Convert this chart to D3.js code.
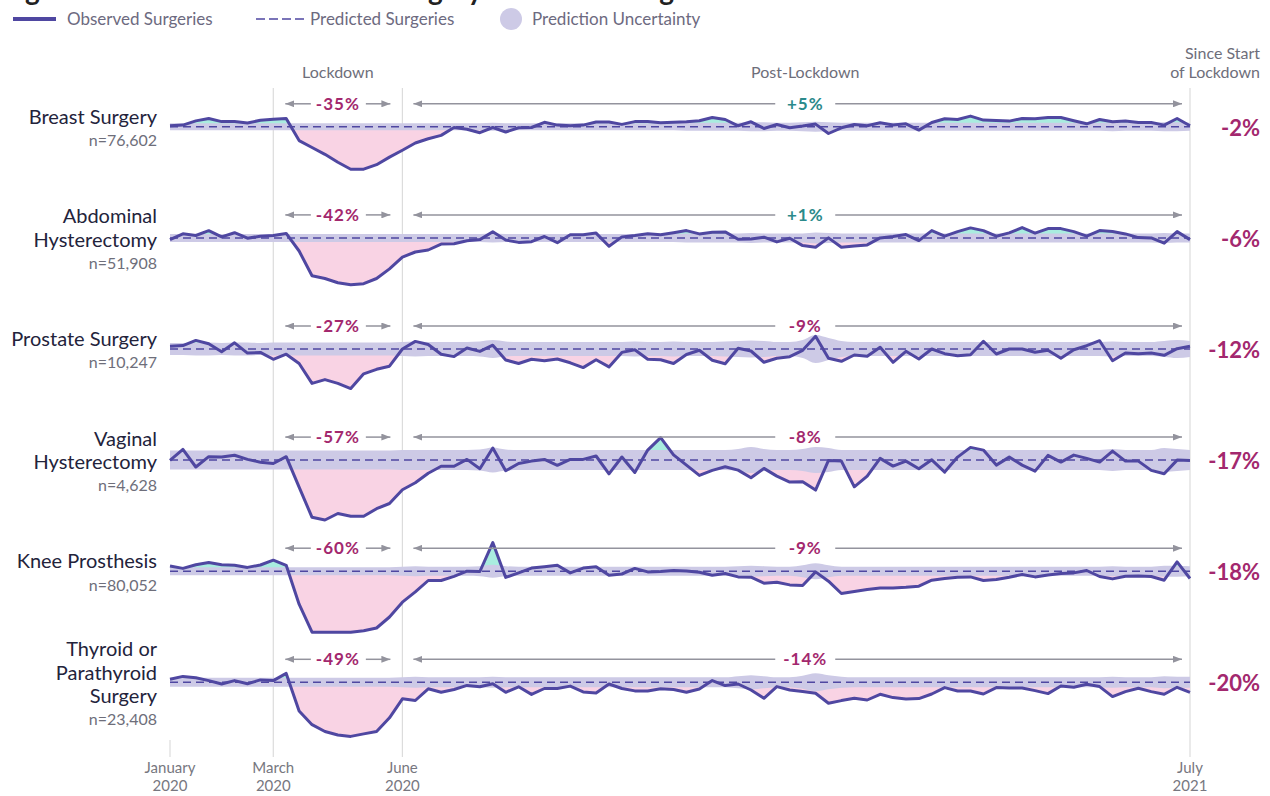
<!DOCTYPE html>
<html><head><meta charset="utf-8">
<script src="https://cdn.jsdelivr.net/npm/d3@7"></script>
<style>
body{margin:0;background:#fff;}
svg{display:block;font-family:Lato,'Noto Sans',sans-serif;}
</style></head><body>
<svg id="chart" width="1270" height="796"></svg>
<script>
// ---------- DATA ----------
const chartTitle = "Figure 1: Reduction in Elective Surgery Volume During and After Lockdown";
const legendLabels = ["Observed Surgeries", "Predicted Surgeries", "Prediction Uncertainty"];
const weekIndex = d3.range(80);
const tickWeeks = [0, 8, 18, 79];
const tickMonths = ["January", "March", "June", "July"];
const tickYears = ["2020", "2020", "2020", "2021"];
const lockdownStartWeek = 8, lockdownEndWeek = 18, lastWeek = 79;
const lockdownLabelWeek = 13, postLabelWeek = 49.2;
const phaseLabels = ["Lockdown", "Post-Lockdown"];
const sinceStartLabel = ["Since Start", "of Lockdown"];

const surgeryNames = [["Breast Surgery"], ["Abdominal", "Hysterectomy"], ["Prostate Surgery"],
  ["Vaginal", "Hysterectomy"], ["Knee Prosthesis"], ["Thyroid or", "Parathyroid", "Surgery"]];
const sampleSizes = ["n=76,602", "n=51,908", "n=10,247", "n=4,628", "n=80,052", "n=23,408"];
const lockdownChange = ["-35%", "-42%", "-27%", "-57%", "-60%", "-49%"];
const postChange = ["+5%", "+1%", "-9%", "-8%", "-9%", "-14%"];
const totalChange = ["-2%", "-6%", "-12%", "-17%", "-18%", "-20%"];

// observed deviation from predicted (%), weekly
const breastObserved = [1,1.7,5.9,8.3,5.2,5.2,3.8,6.5,7.6,8.3,
 -13.8,-20.7,-27.5,-35.5,-42.4,-42.4,-37.9,-30.3,-23.4,-16.2,
 -12,-8.6,-0.7,-2.4,-5.9,-0.7,-5.2,-1,-0.7,4.5,
 1.7,1,1.7,4.8,4.8,2.4,5.2,5.2,4.1,4.5,
 5,6,9.3,7.3,1,5,-1.7,2.3,-1,0.7,
 2.7,-6.7,-1,2.3,1,4,1.7,3,-3.3,4.3,
 8,7.3,10.7,6.7,6.3,5.7,8.3,8,9.3,9.3,
 6,3,7.3,5,5.7,4.3,4.3,1.7,8.3,1];
const abdominalObserved = [-1.7,4.1,2.4,7.2,1,5.2,-0.3,1.7,2.4,4.5,
 -13.1,-37.9,-40.6,-44.8,-46.8,-45.8,-40.6,-31,-19.3,-14.1,
 -12.1,-6.2,-5.9,-2.8,-1.7,6.2,-2.1,-4.5,-3.8,1.4,
 -4.8,3.1,3.1,4.8,-8.3,1,2.4,4.1,3.1,5.2,
 7.3,4,5.7,6,-1.3,-1,0.7,-4,-0.3,-7.7,
 -9.3,0,-9.3,-8,-7,0,1.3,3.3,-2.7,7.3,
 1.7,6.3,10,7.3,1.7,5,10.3,4.7,9.3,9.3,
 6.3,1.7,7.3,6.3,4,0.3,0,-5.3,6.3,-1.7];
const prostateObserved = [2.8,3.4,8.6,5.2,-2.8,6.2,-4.1,-3.4,-10.3,-5.2,
 -14.5,-34.4,-30.6,-34.4,-39.6,-24.8,-20.3,-17.2,0,7.6,
 4.5,-5.2,-7.6,1,-2.4,3.8,-11,-14.5,-10.3,-11.7,
 -10,-13.8,-18.6,-10.7,-17.9,-3.4,-0.7,-10.3,-10.7,-14.5,
 -5.5,-1.3,-11.3,-14.7,0.7,-2,-13.3,-9.3,-7.7,-1.3,
 12.7,-9.3,-12.3,-6,-7.3,1.7,-13.3,-2.3,-10,0,
 -4.7,-6.7,-5.7,7.7,-5,0,0,-3.3,-1.3,-9.3,
 -0.7,3.3,8.3,-11.7,-4,-4.7,-4,-6.3,0.3,2.7];
const vaginalObserved = [-0.3,10.7,-6.9,3.4,3.1,4.8,0.7,-2.1,-3.4,3.4,
 -27,-57.2,-59.9,-53.4,-56.1,-56.1,-48.6,-43.4,-29.6,-22.7,
 -13.1,-6.2,-6.2,0.7,-8.6,12.1,-10.7,-3.4,-1,0.7,
 -5.2,0.7,0.7,4.1,-13.8,3.1,-12.4,10,22.4,5.2,
 -5,-15.3,-10.3,-6.7,-10,-17.7,-8.3,-16,-22,-21.7,
 -30,-0.3,-1,-26.7,-16,1.7,-6,-1,-8.7,0.3,
 -12,3,12.7,10,-5,3,-5,-11,4.7,-2,
 5,1.7,-2,9,-1,-1,-10.3,-13.7,0,-0.3];
const kneeObserved = [5.2,2.8,6.5,8.6,6.5,5.9,3.8,6.2,11,5.9,
 -33,-61,-61,-61,-61,-59.6,-56.8,-45.8,-31,-20.7,
 -9.3,-9.3,-5.2,0,-0.3,28.6,-6.2,-1.7,3.1,4.5,
 5.9,-1.7,3.1,4.5,-4.1,-2.8,2.8,-0.7,-0.3,0.7,
 0.2,-1,-4,-2.3,-5.7,-6,-12,-11,-13.7,-14.3,
 -0.7,-10,-22.3,-20.3,-18.3,-16.7,-16.7,-16,-15,-9,
 -7.3,-6,-5.7,-9.3,-8.3,-6,-3.3,-5.7,-3.7,-2.3,
 -1.7,0.7,-5.3,-7.7,-5,-4.7,-5.3,-9,9.3,-7.3];
const thyroidObserved = [3.1,5.9,4.5,1.7,-1.7,1.7,-1.4,2.4,1.7,8.9,
 -28.6,-42.4,-49.2,-52.7,-54.1,-51.6,-49.2,-35.5,-16.5,-18.2,
 -6.5,-10,-7.2,-3.1,-4.5,-1.4,-10,-4.5,-12.1,-6.2,
 -6.2,-3.8,-9.6,-10.7,-1.7,-6.2,-8.6,-8.6,-6.5,-7.2,
 -10,-6.7,1.7,-3.3,-1.7,-7.7,-16,-4.3,-7.7,-9.3,
 -11,-21,-18.3,-16,-17.7,-12,-15.3,-16.7,-16.3,-11.7,
 -5.3,-8.7,-8.7,-11.7,-5.3,-5.7,-5.7,-8.3,-11.3,-3.7,
 -5,-2,-4.3,-14.3,-9.3,-6,-9.3,-12,-5,-10];

// prediction uncertainty half-width (%), weekly
const breastBand = [3.5,3.5,3.5,3.5,3.5,3.5,3.5,3.5,3.5,3.5,
 3.5,3.5,3.5,3.5,3.5,3.5,3.5,3.5,3.5,3.5,
 3.5,3.5,3.5,3.5,3.5,4,3.5,3.5,3.5,3.5,
 3.5,3.5,3.5,3.5,3.5,3.5,3.5,3.5,3.5,3.5,
 4,4,4,4,4,4.5,4.5,4,4,4.5,
 5,4.5,4,4,4,4,4,4,4,4,
 4,4,4,4,4,4,4,4,4,4,
 4,4,4,4.5,4,4,4,4.5,4.5,4];
const abdominalBand = [4,4,4,4,4,4,4,4,4,4,
 4,4,4,4,4,4,4,4,4,4,
 4,4,4,4,4,4.5,4,4,4,4,
 4,4,4,4,4,4,4,4,4,4,
 4.5,4.5,4.5,4.5,4.5,5,4.5,4.5,4.5,4.5,
 5.5,5,4.5,4.5,4.5,4.5,4.5,4.5,4.5,4.5,
 4.5,4.5,4.5,4.5,4.5,4.5,4.5,4.5,4.5,4.5,
 4.5,4.5,4.5,4.5,4.5,4.5,4.5,5,4.5,4.5];
const prostateBand = [6,6,6.5,6.5,6,6.5,6.5,6,6.5,6.5,
 6.5,6.5,6.5,6.5,6.5,6.5,6.5,6.5,7,7.5,
 7,7,7,7,7.5,9,7.5,7,7,7,
 7,7,7,7,7,7,7.5,7,7,7.5,
 7,7,7,7.5,8,8.5,8,7,7,9,
 14,11,8,7,7,7,7,7,7,7,
 7,7,7,7,7,7,7,7,7,7,
 7,7,7,7.5,7,7,7,8,9,8];
const vaginalBand = [9.5,9.5,9.5,9.5,9.5,9.5,9.5,9.5,9.5,9.5,
 9.5,9.5,9.5,9.5,9.5,9.5,9.5,9.5,10,10,
 10,10,10,10,10.5,12.5,10.5,10,10,10,
 10,10,10,10,10,10,10,10,10,10,
 10,10,10,10,11,13,11,10,10,11,
 13,12,10,10,10,10,10,10,10,10,
 10,10,10,10,10,10,10,10,10,10,
 10,10,10,11,10,10,10,12,11,10];
const kneeBand = [4,4,4,4,4,4,4,4,4,4,
 4,4,4,4,4,4,4,4,4.5,5,
 4.5,4.5,4.5,4.5,5,6.5,5,4.5,4.5,4.5,
 4.5,4.5,4.5,4.5,4.5,4.5,4.5,4.5,4.5,4.5,
 4.5,4.5,4.5,4.5,5,5.5,5,4.5,4.5,6,
 8,6,4.5,4.5,4.5,4.5,4.5,4.5,4.5,4.5,
 4.5,4.5,4.5,4.5,4.5,4.5,4.5,4.5,4.5,4.5,
 4.5,4.5,4.5,5,4.5,4.5,4.5,5.5,5.5,5];
const thyroidBand = [4.5,4.5,4.5,4.5,4.5,4.5,4.5,4.5,4.5,4.5,
 4.5,4.5,4.5,4.5,4.5,4.5,4.5,4.5,5,5.5,
 5,5,5,5,5,5.5,5,5,5,5,
 5,5,5,5,5,5,5,5,5,5,
 5,5,5,5,6,7,6,5,5,6.5,
 9,7,5.5,5,5,5,5,5,5,5,
 5,5,5,5,5,5,5,5,5,5,
 5,5,5,5.5,5,5,5,6,5.5,5.5];

const observedSeries = [breastObserved, abdominalObserved, prostateObserved, vaginalObserved, kneeObserved, thyroidObserved];
const bandSeries = [breastBand, abdominalBand, prostateBand, vaginalBand, kneeBand, thyroidBand];

// ---------- STYLE ----------
const C = {
  line: "#4f47a1", band: "#cdcae6", pink: "#f9d3e4", teal: "#a9ecdf",
  magenta: "#a3286e", tealText: "#2b8a8b", arrow: "#93939d", grid: "#dcdcdc",
  label: "#23233b", sub: "#6e6e7a", legend: "#6d6a80", axis: "#777780"
};
const svg = d3.select("#chart");
const x = d3.scaleLinear().domain([0, lastWeek]).range([170, 1190]);
const rowBase = d3.scaleLinear().domain([0, 1]).range([126.8, 237.9]);

const defs = svg.append("defs");
defs.append("marker").attr("id", "arrowhead")
  .attr("viewBox", "0 0 9 7").attr("refX", 9).attr("refY", 3.5)
  .attr("markerWidth", 9).attr("markerHeight", 7).attr("markerUnits", "userSpaceOnUse")
  .attr("orient", "auto-start-reverse")
  .append("path").attr("d", "M0,0 L9,3.5 L0,7 Z").attr("fill", C.arrow);

// title (cut off at the top as in the original)
svg.append("text").attr("x", 2).attr("y", 0).attr("font-size", 28).attr("font-weight", 700)
  .attr("fill", "#222").text(chartTitle);

// legend
const lg = svg.append("g");
lg.append("line").attr("x1", 13).attr("x2", 56).attr("y1", 19).attr("y2", 19)
  .attr("stroke", C.line).attr("stroke-width", 4);
lg.append("text").attr("x", 67).attr("y", 19).attr("dy", "0.35em").attr("font-size", 17).attr("fill", C.legend).text(legendLabels[0]);
lg.append("line").attr("x1", 256).attr("x2", 305).attr("y1", 19).attr("y2", 19)
  .attr("stroke", C.line).attr("stroke-width", 1.6).attr("stroke-dasharray", "9,4");
lg.append("text").attr("x", 310).attr("y", 19).attr("dy", "0.35em").attr("font-size", 17).attr("fill", C.legend).text(legendLabels[1]);
lg.append("circle").attr("cx", 511).attr("cy", 19).attr("r", 11).attr("fill", C.band);
lg.append("text").attr("x", 532).attr("y", 19).attr("dy", "0.35em").attr("font-size", 17).attr("fill", C.legend).text(legendLabels[2]);

// top phase labels
svg.append("text").attr("x", x(lockdownLabelWeek)).attr("y", 72).attr("dy", "0.35em").attr("text-anchor", "middle")
  .attr("font-size", 16).attr("fill", C.sub).text(phaseLabels[0]);
svg.append("text").attr("x", x(postLabelWeek)).attr("y", 72).attr("dy", "0.35em").attr("text-anchor", "middle")
  .attr("font-size", 16).attr("fill", C.sub).text(phaseLabels[1]);
const ss = svg.append("text").attr("text-anchor", "end").attr("font-size", 16).attr("fill", C.sub);
sinceStartLabel.forEach((t, i) => {
  ss.append("tspan").attr("x", 1260).attr("y", 53 + i * 19).attr("dy", "0.35em").text(t);
});

// vertical reference lines and axis
const gridG = svg.append("g");
tickWeeks.forEach((w, i) => {
  gridG.append("line").attr("x1", x(w)).attr("x2", x(w))
    .attr("y1", i === 0 ? 740 : 88).attr("y2", 757)
    .attr("stroke", C.grid).attr("stroke-width", 1.2);
  const t = svg.append("text").attr("text-anchor", "middle").attr("font-size", 15).attr("fill", C.axis);
  t.append("tspan").attr("x", x(w)).attr("y", 768).attr("dy", "0.35em").text(tickMonths[i]);
  t.append("tspan").attr("x", x(w)).attr("y", 786).attr("dy", "0.35em").text(tickYears[i]);
});

// rows
observedSeries.forEach((obs, k) => {
  const base = rowBase(k);
  const y = d3.scaleLinear().domain([-100, 100]).range([base + 100, base - 100]);
  const band = bandSeries[k];
  const g = svg.append("g");

  defs.append("clipPath").attr("id", "above" + k).append("rect")
    .attr("x", x(0)).attr("width", x(lastWeek) - x(0)).attr("y", base - 100).attr("height", 100);
  defs.append("clipPath").attr("id", "below" + k).append("rect")
    .attr("x", x(0)).attr("width", x(lastWeek) - x(0)).attr("y", base).attr("height", 100);

  const diffArea = d3.area().x((d, i) => x(weekIndex[i])).y0(y(0)).y1(d => y(d));
  g.append("path").datum(obs).attr("d", diffArea).attr("fill", C.teal).attr("clip-path", `url(#above${k})`);
  g.append("path").datum(obs).attr("d", diffArea).attr("fill", C.pink).attr("clip-path", `url(#below${k})`);

  const bandArea = d3.area().x((d, i) => x(weekIndex[i])).y0(d => y(-d)).y1(d => y(d)).curve(d3.curveMonotoneX);
  g.append("path").datum(band).attr("d", bandArea).attr("fill", C.band);

  g.append("line").attr("x1", x(0)).attr("x2", x(lastWeek)).attr("y1", y(0)).attr("y2", y(0))
    .attr("stroke", C.line).attr("stroke-width", 1.5).attr("stroke-dasharray", "8,5");

  const obsLine = d3.line().x((d, i) => x(weekIndex[i])).y(d => y(d));
  g.append("path").datum(obs).attr("d", obsLine).attr("fill", "none")
    .attr("stroke", C.line).attr("stroke-width", 3).attr("stroke-linejoin", "round");

  // arrows
  const ay = base - 23;
  const seg = (x1, x2, start, end) => {
    const l = g.append("line").attr("x1", x1).attr("x2", x2).attr("y1", ay).attr("y2", ay)
      .attr("stroke", C.arrow).attr("stroke-width", 1.5);
    if (start) l.attr("marker-start", "url(#arrowhead)");
    if (end) l.attr("marker-end", "url(#arrowhead)");
  };
  seg(x(lockdownStartWeek) + 12, x(lockdownLabelWeek) - 27, true, false);
  seg(x(lockdownLabelWeek) + 28, x(lockdownEndWeek) - 12, false, true);
  seg(x(lockdownEndWeek) + 11, x(postLabelWeek) - 30, true, false);
  seg(x(postLabelWeek) + 30, x(lastWeek) - 8, false, true);

  const pctColor = s => s.startsWith("+") ? C.tealText : C.magenta;
  g.append("text").attr("x", x(lockdownLabelWeek)).attr("y", ay).attr("dy", "0.36em").attr("text-anchor", "middle")
    .attr("font-size", 17).attr("font-weight", 700).attr("letter-spacing", 1).attr("fill", pctColor(lockdownChange[k]))
    .text(lockdownChange[k]);
  g.append("text").attr("x", x(postLabelWeek)).attr("y", ay).attr("dy", "0.36em").attr("text-anchor", "middle")
    .attr("font-size", 17).attr("font-weight", 700).attr("letter-spacing", 1).attr("fill", pctColor(postChange[k]))
    .text(postChange[k]);

  // total since start
  g.append("text").attr("x", 1260).attr("y", base + 1).attr("dy", "0.36em").attr("text-anchor", "end")
    .attr("font-size", 22).attr("font-weight", 700).attr("fill", C.magenta).text(totalChange[k]);

  // row label
  const lines = surgeryNames[k].concat([sampleSizes[k]]);
  const lh = 23.5;
  const y0 = base + 2 - (lines.length - 1) * lh / 2;
  lines.forEach((t, j) => {
    const isN = j === lines.length - 1;
    g.append("text").attr("x", 157).attr("y", y0 + j * lh).attr("dy", "0.35em").attr("text-anchor", "end")
      .attr("font-size", isN ? 16 : 20).attr("fill", isN ? C.sub : C.label).text(t);
  });
});
</script>
</body></html>
